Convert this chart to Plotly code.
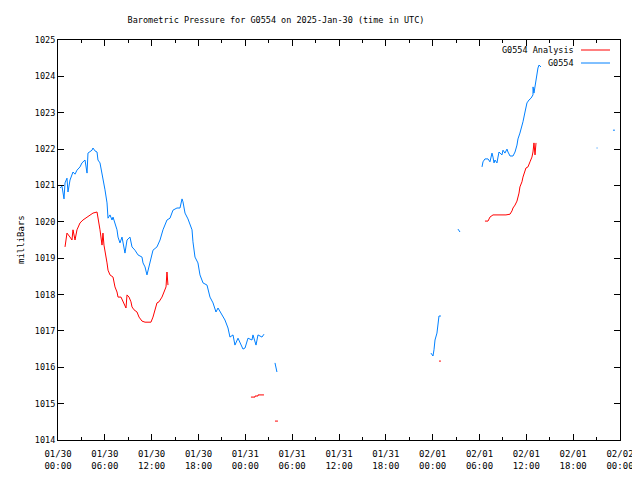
import datetime as dt
import plotly.graph_objects as go

BASE = dt.datetime(2025, 1, 30, 0, 0)

# G0554 observed (hours since 2025-01-30 00:00 UTC, millibars); None = gap
g0554_hours = [
    0.26, 0.51, 0.77, 0.90, 1.15, 1.28, 1.54, 1.92, 2.18, 2.43, 2.82, 3.07, 3.46, 3.59, 3.72, 3.84,
    4.10, 4.36, 4.48, 4.74, 5.00, 5.12, 5.38, 5.64, 5.76, 6.02, 6.28, 6.41, 6.66, 6.92, 7.05, 7.30,
    7.56, 7.69, 7.94, 8.20, 8.58, 8.84, 9.22, 9.48, 9.86, 10.25, 10.76, 10.89, 11.15, 11.40, 11.79,
    12.17, 12.68, 13.07, 13.45, 13.96, 14.35, 14.73, 15.24, 15.63, 15.89, 16.01, 16.27, 16.65, 17.17,
    17.29, 17.55, 17.93, 18.19, 18.58, 19.09, 19.47, 19.86, 20.24, 20.50, 21.01, 21.39, 21.78, 22.03,
    22.42, 22.67, 23.06, 23.32, 23.70, 23.96, 24.34, 24.85, 24.98, 25.37, 25.62, 26.13, 26.39,
    None,
    27.80, 28.05,
    None,
    47.78, 48.04, 48.17, 48.30, 48.55, 48.68, 48.81, 49.06,
    None,
    51.24, 51.50,
    None,
    54.32, 54.45, 54.70, 55.09, 55.34, 55.60, 55.73, 55.86, 55.98, 56.24, 56.37, 56.50, 56.88, 57.01,
    57.26, 57.52, 57.65, 57.91, 58.29, 58.55, 58.80, 58.93, 59.18, 59.44, 59.57, 59.83, 59.95, 60.08,
    60.34, 60.60, 60.85, 60.86, 60.98, 61.11, 61.24, 61.36, 61.49, 61.62, 61.88,
    None,
    69.00, 69.12,
    None,
    71.10, 71.35,
]
g0554_mb = [
    1020.93, 1020.98, 1020.63, 1021.07, 1021.20, 1020.82, 1021.15, 1021.37, 1021.31, 1021.42, 1021.51,
    1021.62, 1021.70, 1021.56, 1021.34, 1021.89, 1021.92, 1021.97, 1022.03, 1021.95, 1021.92, 1021.70,
    1021.62, 1021.34, 1021.15, 1020.88, 1020.52, 1020.10, 1020.19, 1020.05, 1020.13, 1019.97, 1019.78,
    1019.58, 1019.42, 1019.58, 1019.14, 1019.50, 1019.58, 1019.31, 1019.22, 1019.09, 1019.03, 1018.87,
    1018.76, 1018.54, 1018.90, 1019.22, 1019.31, 1019.50, 1019.78, 1020.05, 1020.10, 1020.32, 1020.38,
    1020.38, 1020.63, 1020.55, 1020.24, 1020.08, 1019.78, 1019.45, 1019.03, 1018.87, 1018.54, 1018.32,
    1018.26, 1017.93, 1017.77, 1017.52, 1017.63, 1017.44, 1017.30, 1017.08, 1016.83, 1016.89, 1016.61,
    1016.80, 1016.69, 1016.50, 1016.53, 1016.80, 1016.75, 1016.89, 1016.61, 1016.89, 1016.83, 1016.91,
    None,
    1016.12, 1015.87,
    None,
    1016.39, 1016.31, 1016.48, 1016.75, 1016.94, 1017.24, 1017.41, 1017.41,
    None,
    1019.80, 1019.72,
    None,
    1021.51, 1021.65, 1021.73, 1021.73, 1021.65, 1021.89, 1021.78, 1021.62, 1021.70, 1021.62, 1021.78,
    1021.92, 1021.84, 1021.97, 1021.89, 1022.00, 1021.92, 1021.81, 1021.81, 1021.92, 1022.11, 1022.28,
    1022.44, 1022.61, 1022.75, 1023.02, 1023.21, 1023.27, 1023.35, 1023.40, 1023.49, 1023.71, 1023.54,
    1023.71, 1023.96, 1024.09, 1024.23, 1024.31, 1024.26,
    None,
    1022.03, 1022.03,
    None,
    1022.52, 1022.52,
]

# G0554 Analysis
analysis_hours = [
    0.90, 1.15, 1.54, 1.79, 1.92, 2.18, 2.43, 2.82, 3.20, 3.72, 4.10, 4.48, 5.00, 5.12, 5.38, 5.64,
    5.76, 5.89, 6.02, 6.28, 6.41, 6.66, 7.05, 7.17, 7.30, 7.56, 7.69, 8.07, 8.33, 8.46, 8.71, 8.84,
    9.10, 9.35, 9.48, 9.74, 10.12, 10.38, 10.76, 11.15, 11.91, 12.17, 12.43, 12.68, 12.94, 13.32,
    13.58, 13.84, 13.96, 14.09,
    None,
    24.72, 25.24, 25.25, 25.62, 25.63, 26.39,
    None,
    27.80, 28.18,
    None,
    48.81, 49.06,
    None,
    54.70, 55.09, 55.34, 55.73, 57.39, 57.91, 58.16, 58.29, 58.55, 58.80, 59.06, 59.18, 59.44, 59.57,
    59.95, 60.21, 60.47, 60.72, 60.85, 60.98, 61.11, 61.24,
]
analysis_mb = [
    1019.31, 1019.69, 1019.58, 1019.50, 1019.78, 1019.50, 1019.78, 1019.97, 1020.05, 1020.13, 1020.19,
    1020.24, 1020.27, 1020.13, 1019.78, 1019.36, 1019.69, 1019.36, 1019.22, 1018.87, 1018.67, 1018.54,
    1018.48, 1018.34, 1018.21, 1018.07, 1017.93, 1017.93, 1017.80, 1017.71, 1017.63, 1017.99, 1017.93,
    1017.80, 1017.66, 1017.58, 1017.52, 1017.38, 1017.27, 1017.24, 1017.24, 1017.38, 1017.58, 1017.77,
    1017.80, 1017.93, 1018.07, 1018.21, 1018.62, 1018.26,
    None,
    1015.18, 1015.18, 1015.21, 1015.21, 1015.24, 1015.24,
    None,
    1014.52, 1014.52,
    None,
    1016.17, 1016.17,
    None,
    1020.02, 1020.02, 1020.13, 1020.19, 1020.19, 1020.21, 1020.30, 1020.38, 1020.46, 1020.57, 1020.79,
    1020.96, 1021.10, 1021.23, 1021.48, 1021.51, 1021.65, 1021.78, 1021.92, 1022.17, 1021.84, 1022.17,
]

tick_hours = [0, 6, 12, 18, 24, 30, 36, 42, 48, 54, 60, 66, 72]
tick_labels = ["01/30<br>00:00", "01/30<br>06:00", "01/30<br>12:00", "01/30<br>18:00",
               "01/31<br>00:00", "01/31<br>06:00", "01/31<br>12:00", "01/31<br>18:00",
               "02/01<br>00:00", "02/01<br>06:00", "02/01<br>12:00", "02/01<br>18:00",
               "02/02<br>00:00"]
y_ticks = list(range(1014, 1026))


def to_time(hours):
    return [None if h is None else BASE + dt.timedelta(hours=h) for h in hours]


RED = "#ff0000"
BLUE = "#0080ff"
FONT = "DejaVu Sans Mono"
FS = 8.5

fig = go.Figure()
fig.add_trace(go.Scatter(x=to_time(analysis_hours), y=analysis_mb, mode="lines",
                         name="G0554 Analysis", line=dict(color=RED, width=1)))
fig.add_trace(go.Scatter(x=to_time(g0554_hours), y=g0554_mb, mode="lines",
                         name="G0554", line=dict(color=BLUE, width=1)))

# The page body has an 8px margin, so the figure is shifted by 8px; margins compensate.
fig.update_layout(
    width=640, height=480,
    margin=dict(l=50, r=28, t=32, b=48),
    paper_bgcolor="white", plot_bgcolor="white",
    showlegend=False,
    font=dict(family=FONT, size=FS, color="black"),
    title=dict(text="Barometric Pressure for G0554 on 2025-Jan-30 (time in UTC)",
               x=268 / 640, xanchor="center", xref="container",
               y=1 - 12 / 480, yanchor="middle", yref="container",
               font=dict(family=FONT, size=FS, color="black")),
)
fig.update_xaxes(
    range=[BASE, BASE + dt.timedelta(hours=72)],
    tickvals=to_time(tick_hours), ticktext=tick_labels,
    ticks="inside", ticklen=6, tickcolor="black", tickwidth=1,
    ticklabelstandoff=5,
    showline=True, linecolor="black", linewidth=1, mirror="ticks",
    showgrid=False, zeroline=False,
    minor=dict(ticks="inside", ticklen=3, tickcolor="black",
               tickvals=to_time([h + 3 for h in tick_hours[:-1]]), showgrid=False),
    tickfont=dict(family=FONT, size=9, color="black"),
)
fig.update_yaxes(
    range=[1014, 1025], tickvals=y_ticks,
    ticks="inside", ticklen=6, tickcolor="black", tickwidth=1,
    showline=True, linecolor="black", linewidth=1, mirror="ticks",
    showgrid=False, zeroline=False,
    tickfont=dict(family=FONT, size=FS, color="black"),
)

# y-axis label
fig.add_annotation(text="milliBars", xref="paper", yref="paper",
                   x=(14 - 58) / 562, y=0.5, textangle=-90, showarrow=False,
                   font=dict(family=FONT, size=9, color="black"))

# gnuplot-style key (text right, sample line after)
key = [("G0554 Analysis", RED, 50), ("G0554", BLUE, 63)]
for label, color, py in key:
    yp = (440 - py) / 400
    fig.add_annotation(text=label, xref="paper", yref="paper",
                       x=(576 - 58) / 562, y=yp, xanchor="right", yanchor="middle",
                       showarrow=False, font=dict(family=FONT, size=FS, color="black"))
    fig.add_shape(type="line", xref="paper", yref="paper",
                  x0=(581 - 58) / 562, x1=(610 - 58) / 562, y0=yp, y1=yp,
                  line=dict(color=color, width=1))

fig.write_html("out.html")
